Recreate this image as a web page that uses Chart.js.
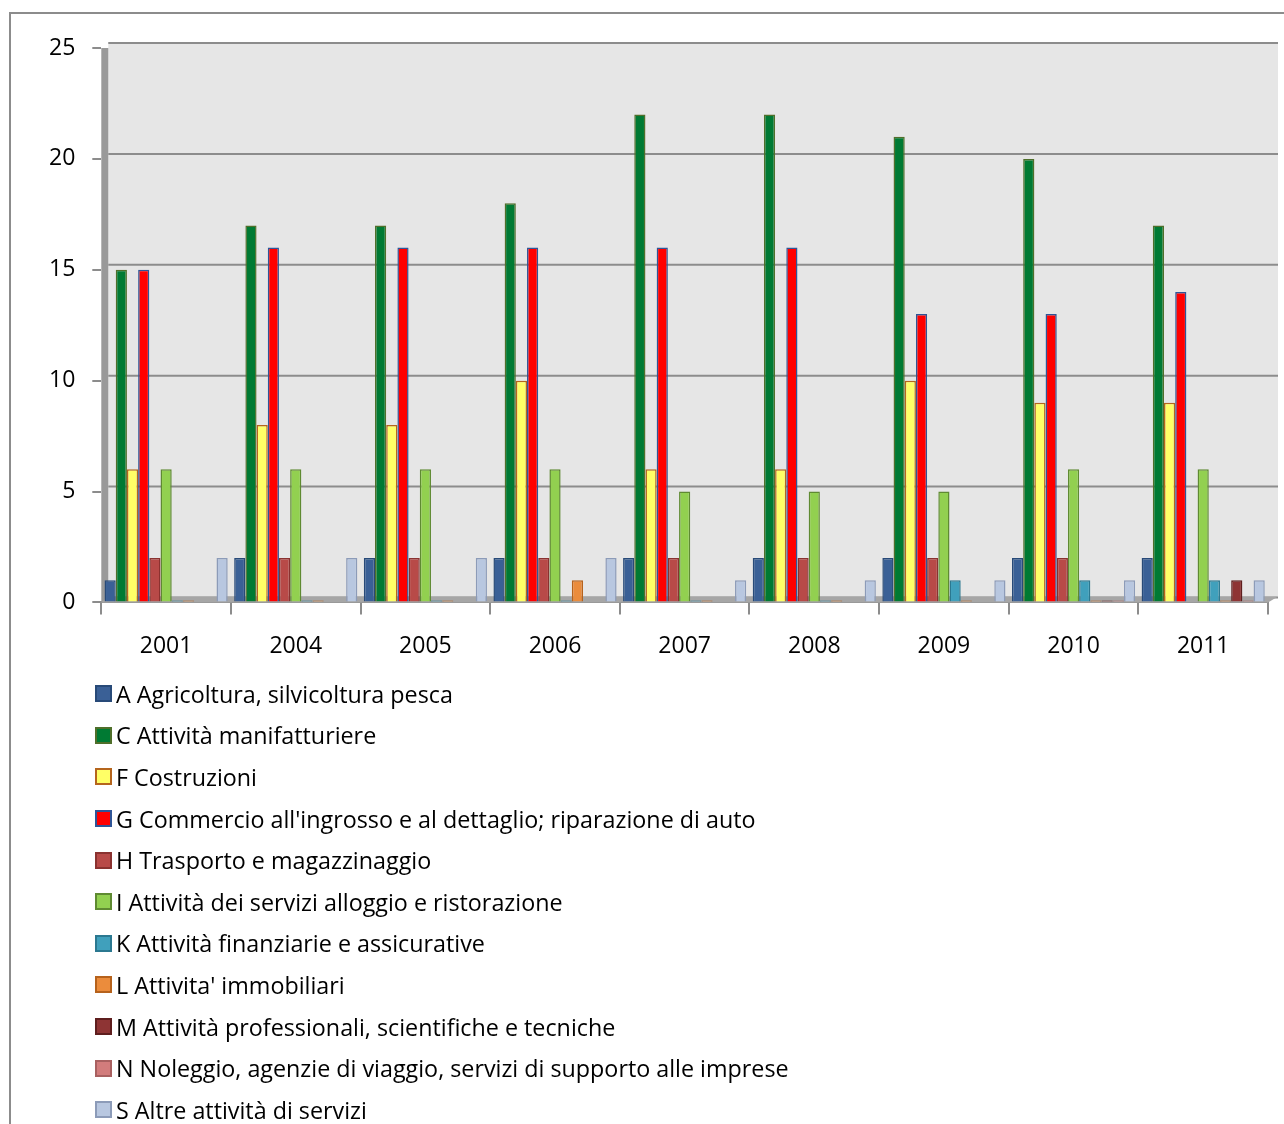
<!DOCTYPE html>
<html>
<head>
<meta charset="utf-8">
<script src="https://cdn.jsdelivr.net/npm/chart.js@4/dist/chart.umd.min.js"></script>
<style>
  body { margin: 0; background: #fff; font-family: "Open Sans", sans-serif; }
  #frame { position: absolute; left: 9px; top: 12px; width: 1300px; height: 1200px; border: 2px solid #8c8c8c; box-sizing: border-box; }
  #wrap { position: absolute; left: 0; top: 0; width: 1284px; height: 690px; }
  #legend { position: absolute; left: 95px; top: 673px; margin: 0; padding: 0; list-style: none; }
  #legend li { height: 41.6px; display: flex; align-items: center; font-size: 23.3px; color: #000; white-space: nowrap; }
  #legend span.box { width: 13px; height: 13px; border: 2px solid; margin-right: 4px; display: inline-block; }
</style>
</head>
<body>
<div id="frame"></div>
<div id="wrap"><canvas id="chart" width="1284" height="690"></canvas></div>
<ul id="legend"></ul>
<script>
// anni e serie
const anni = ["2001", "2004", "2005", "2006", "2007", "2008", "2009", "2010", "2011"];
const tickY = [0, 5, 10, 15, 20, 25];

const agricoltura   = [1, 2, 2, 2, 2, 2, 2, 2, 2];
const manifatturiere = [15, 17, 17, 18, 22, 22, 21, 20, 17];
const costruzioni   = [6, 8, 8, 10, 6, 6, 10, 9, 9];
const commercio     = [15, 16, 16, 16, 16, 16, 13, 13, 14];
const trasporto     = [2, 2, 2, 2, 2, 2, 2, 2, null];
const alloggio      = [6, 6, 6, 6, 5, 5, 5, 6, 6];
const finanziarie   = [0, 0, 0, 0, 0, 0, 1, 1, 1];
const immobiliari   = [0, 0, 0, 1, 0, 0, 0, 0, 0];
const professionali = [null, null, null, null, null, null, null, 0, 1];
const noleggio      = [null, null, null, null, null, null, null, 0, 0];
const altreServizi  = [2, 2, 2, 2, 1, 1, 1, 1, 1];

const serie = [
  ["A Agricoltura, silvicoltura pesca", agricoltura, "#3a6096", "#284a78"],
  ["C Attività manifatturiere", manifatturiere, "#007a33", "#4f6f2a"],
  ["F Costruzioni", costruzioni, "#ffff66", "#b5651d"],
  ["G Commercio all'ingrosso e al dettaglio; riparazione di auto", commercio, "#ff0000", "#2f5597"],
  ["H Trasporto e magazzinaggio", trasporto, "#b84a48", "#8a3230"],
  ["I Attività dei servizi alloggio e ristorazione", alloggio, "#92d050", "#5f8a32"],
  ["K Attività finanziarie e assicurative", finanziarie, "#40a0bc", "#2b7890"],
  ["L Attivita' immobiliari", immobiliari, "#eb8c3c", "#b6621c"],
  ["M Attività professionali, scientifiche e tecniche", professionali, "#8e3434", "#5e1e1e"],
  ["N Noleggio, agenzie di viaggio, servizi di supporto alle imprese", noleggio, "#d27c7c", "#a86060"],
  ["S Altre attività di servizi", altreServizi, "#b8c7e0", "#8c9bb8"]
];

const sfondo3d = {
  id: "sfondo3d",
  beforeDatasetsDraw(chart) {
    const { ctx, chartArea: a, scales } = chart;
    ctx.save();
    // parete di fondo
    ctx.fillStyle = "#e6e6e6";
    ctx.fillRect(a.left + 7, a.top - 6, a.right - a.left + 3, a.bottom - a.top);
    // parete laterale
    ctx.fillStyle = "#999999";
    ctx.fillRect(a.left, a.top, 7, a.bottom - a.top);
    // griglia sulla parete
    ctx.strokeStyle = "#8c8c8c";
    ctx.lineWidth = 2;
    tickY.forEach(v => {
      const y = scales.y.getPixelForValue(v) - 5;
      ctx.beginPath();
      ctx.moveTo(a.left + 7, y);
      ctx.lineTo(a.right + 10, y);
      ctx.stroke();
    });
    // pavimento
    ctx.fillStyle = "#a6a6a6";
    ctx.beginPath();
    ctx.moveTo(a.left, a.bottom);
    ctx.lineTo(a.left + 7, a.bottom - 6);
    ctx.lineTo(a.right + 10, a.bottom - 6);
    ctx.lineTo(a.right, a.bottom);
    ctx.closePath();
    ctx.fill();
    ctx.restore();
  }
};

const ctx = document.getElementById("chart").getContext("2d");
const chart = new Chart(ctx, {
  type: "bar",
  data: {
    labels: anni,
    datasets: serie.map(s => ({
      label: s[0],
      data: s[1],
      backgroundColor: s[2],
      borderColor: s[3],
      borderWidth: 1.5,
      minBarLength: 2
    }))
  },
  options: {
    responsive: false,
    animation: false,
    devicePixelRatio: 1,
    layout: { padding: { top: 48, right: 16, left: 32, bottom: 12 } },
    datasets: { bar: { categoryPercentage: 0.95, barPercentage: 1.0 } },
    plugins: { legend: { display: false }, tooltip: { enabled: false } },
    scales: {
      x: {
        grid: { display: true, drawOnChartArea: false, color: "#8c8c8c", lineWidth: 2, tickLength: 12, offset: true },
        border: { color: "#8c8c8c", width: 2 },
        ticks: { color: "#000", font: { family: "Open Sans", size: 23 }, padding: 18 }
      },
      y: {
        min: 0, max: 25,
        afterBuildTicks: sc => { sc.ticks = tickY.map(v => ({ value: v })); },
        grid: { display: true, drawOnChartArea: false, color: "#8c8c8c", lineWidth: 2, tickLength: 9 },
        border: { display: false },
        ticks: { color: "#000", font: { family: "Open Sans", size: 23 }, padding: 17 }
      }
    }
  },
  plugins: [sfondo3d]
});

const ul = document.getElementById("legend");
chart.data.datasets.forEach(d => {
  const li = document.createElement("li");
  li.innerHTML = '<span class="box" style="background:' + d.backgroundColor + ';border-color:' + d.borderColor + '"></span>' + d.label;
  ul.appendChild(li);
});
</script>
</body>
</html>
